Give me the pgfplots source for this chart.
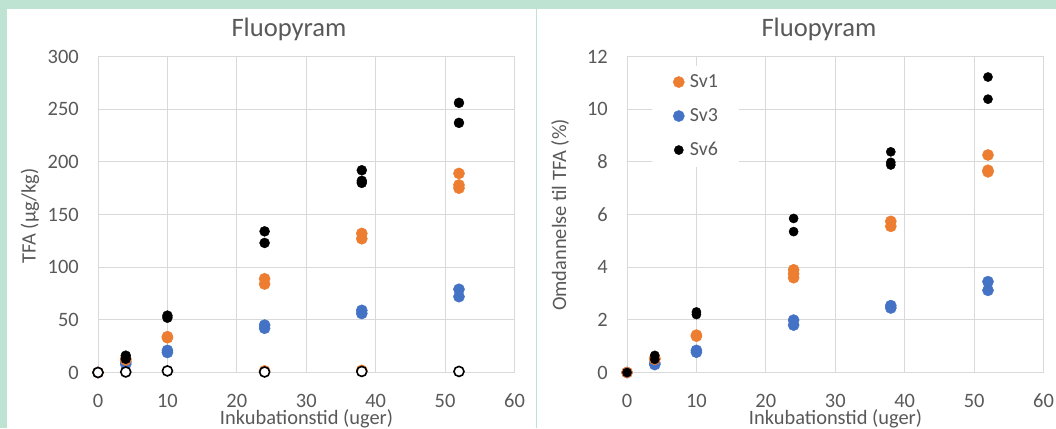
\documentclass[border=0pt]{standalone}
\usepackage{pgfplots}
\pgfplotsset{compat=1.18}
\usepackage{fontspec}
\setmainfont{Carlito}
\definecolor{bggreen}{RGB}{190,227,211}
\definecolor{xlorange}{HTML}{ED7D31}
\definecolor{xlblue}{HTML}{4472C4}
\definecolor{xlgrid}{HTML}{D9D9D9}
\definecolor{xltext}{HTML}{595959}

\pgfplotsset{
 xlstyle/.style={
  scale only axis, width=416.5bp, height=316bp,
  xmin=0, xmax=60, xtick={0,10,...,60},
  grid=major, major grid style={xlgrid, line width=1bp},
  axis line style={xlgrid, line width=1bp},
  major tick length=0pt,
  tick label style={font=\fontsize{20.5}{24}\selectfont, text=xltext},
  /pgf/number format/assume math mode=true,
  xticklabel style={anchor=north, inner sep=0pt, yshift=-21.5bp},
  yticklabel style={anchor=east, inner sep=0pt, xshift=-19bp},
  clip=false,
 },
 sOr/.style={only marks, mark=*, mark size=5.6bp, mark options={draw=xlorange, fill=xlorange}},
 sBl/.style={only marks, mark=*, mark size=5.6bp, mark options={draw=xlblue, fill=xlblue}},
 sBk/.style={only marks, mark=*, mark size=5bp, mark options={draw=black, fill=black}},
 sBkR/.style={only marks, mark=*, mark size=4.6bp, mark options={draw=black, fill=black}},
 sOpen/.style={only marks, mark=*, mark size=5bp, mark options={draw=black, fill=white, line width=1.6bp}},
}

\begin{document}
\begin{tikzpicture}[x=1bp,y=1bp]
\useasboundingbox (0,0) rectangle (1056,428);
\fill[bggreen] (0,0) rectangle (1056,428);
\fill[white] (7,0) rectangle (535.5,419);
\fill[white] (537,0) rectangle (1056,419);

% ---------- left panel ----------
\begin{axis}[xlstyle, at={(98bp,55.5bp)}, anchor=south west,
  ymin=0, ymax=300, ytick={0,50,...,300}]
\addplot[sBl] coordinates {(0,0) (4,8) (4,10) (10,19) (10,21) (24,42) (24,45) (38,56) (38,59) (52,72) (52,79)};
\addplot[sOr] coordinates {(0,0) (4,12) (4,13) (10,33) (10,34) (24,84) (24,89) (38,127) (38,132) (52,175) (52,178) (52,189) (24,1.5) (38,2)};
\addplot[sBk] coordinates {(4,13) (4,16) (10,52) (10,54) (24,123) (24,134) (38,180) (38,182) (38,192) (52,237) (52,256)};
\addplot[sOpen] coordinates {(0,0) (4,0.5) (10,1.5) (24,0.5) (38,1) (52,1)};
\end{axis}

% ---------- right panel ----------
\begin{axis}[xlstyle, at={(627bp,55.5bp)}, anchor=south west,
  ymin=0, ymax=12, ytick={0,2,...,12},
  legend image code/.code={\draw[#1] plot coordinates {(0bp,0bp)};},
  legend style={at={(rel axis cs:0.06,0.972)}, anchor=north west, draw=none, fill=white,
    inner xsep=21bp, inner ysep=7.5bp, row sep=16bp,
    nodes={inner sep=0pt, text height=14bp, text depth=4bp, font=\fontsize{20}{24}\selectfont, text=xltext},
    /tikz/every odd column/.append style={column sep=5.5bp}},
  legend cell align=left]
\addlegendimage{sOr}\addlegendentry{Sv1}
\addlegendimage{sBl}\addlegendentry{Sv3}
\addlegendimage{sBkR}\addlegendentry{Sv6}
\addplot[sBl, forget plot] coordinates {(0,0) (4,0.3) (4,0.36) (10,0.77) (10,0.84) (24,1.8) (24,1.99) (38,2.45) (38,2.54) (52,3.12) (52,3.45)};
\addplot[sOr, forget plot] coordinates {(0,0) (4,0.5) (4,0.55) (10,1.38) (10,1.42) (24,3.6) (24,3.75) (24,3.9) (38,5.55) (38,5.74) (52,7.62) (52,7.68) (52,8.26)};
\addplot[sBkR, forget plot] coordinates {(0,0) (4,0.5) (4,0.65) (10,2.2) (10,2.3) (24,5.35) (24,5.85) (38,7.88) (38,7.98) (38,8.38) (52,10.38) (52,11.22)};
\end{axis}

% ---------- titles and labels ----------
\begin{scope}[every node/.style={text=xltext, inner sep=0pt}]
\node[anchor=base, font=\fontsize{26.7}{30}\selectfont] at (289,391) {Fluopyram};
\node[anchor=base, font=\fontsize{26.7}{30}\selectfont] at (819,391) {Fluopyram};
\node[anchor=base, font=\fontsize{20.5}{24}\selectfont] at (306.5,4) {Inkubationstid (uger)};
\node[anchor=base, font=\fontsize{20.5}{24}\selectfont] at (835.5,4) {Inkubationstid (uger)};
\node[anchor=base, rotate=90, font=\fontsize{20.5}{24}\selectfont] at (35.5,212) {TFA (µg/kg)};
\node[anchor=base, rotate=90, font=\fontsize{20.5}{24}\selectfont] at (566,213) {Omdannelse til TFA (\%)};
\end{scope}
\end{tikzpicture}
\end{document}
